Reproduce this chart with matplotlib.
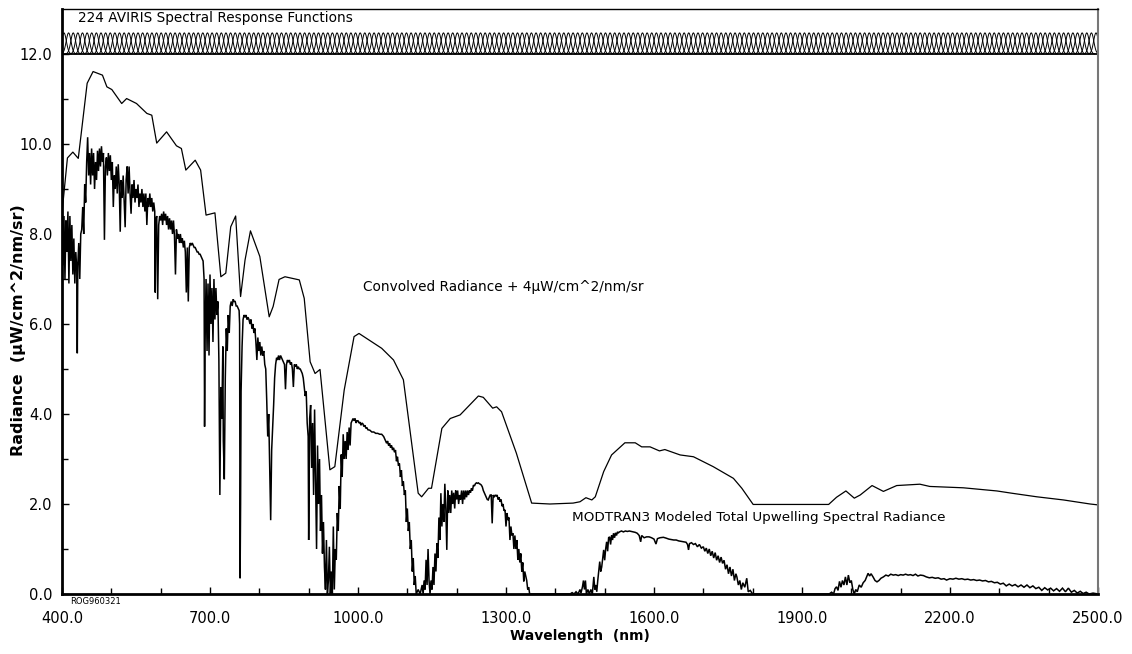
import numpy as np
import matplotlib
matplotlib.use("Agg")
import matplotlib.pyplot as plt

# ---------------- data ----------------
x_ticks = [400, 700, 1000, 1300, 1600, 1900, 2200, 2500]
y_ticks = [0, 2, 4, 6, 8, 10, 12]

# convolved radiance (+ offset): (wavelength nm, radiance)
convolved = [
    (400, 8.47), (411, 9.69), (422, 9.82), (433, 9.68), (451, 11.35), (463, 11.61),
    (482, 11.53), (491, 11.27), (501, 11.21), (521, 10.90), (531, 11.01), (551, 10.90),
    (572, 10.68), (582, 10.64), (592, 10.02), (612, 10.27), (632, 9.96), (642, 9.90),
    (651, 9.42), (670, 9.64), (681, 9.42), (692, 8.42), (710, 8.47), (722, 7.05),
    (732, 7.13), (742, 8.16), (752, 8.40), (762, 6.61), (771, 7.42), (782, 8.07),
    (801, 7.50), (820, 6.16), (828, 6.39), (840, 6.99), (852, 7.05), (881, 6.98),
    (891, 6.57), (903, 5.16), (913, 4.90), (923, 4.99), (943, 2.76), (953, 2.83),
    (972, 4.53), (992, 5.72), (1002, 5.79), (1048, 5.46), (1072, 5.20), (1092, 4.76),
    (1122, 2.24), (1129, 2.16), (1143, 2.35), (1149, 2.35), (1170, 3.68), (1187, 3.90),
    (1207, 3.98), (1244, 4.40), (1254, 4.37), (1273, 4.13), (1281, 4.16), (1291, 4.05),
    (1321, 3.13), (1352, 2.02), (1389, 2.00), (1436, 2.02), (1450, 2.05), (1462, 2.14),
    (1474, 2.09), (1481, 2.16), (1498, 2.72), (1514, 3.09), (1541, 3.36), (1562, 3.36),
    (1575, 3.27), (1592, 3.27), (1611, 3.18), (1622, 3.21), (1653, 3.09), (1680, 3.05),
    (1720, 2.83), (1761, 2.57), (1778, 2.35), (1801, 1.99), (1954, 1.99), (1970, 2.15),
    (1989, 2.29), (2006, 2.13), (2018, 2.20), (2042, 2.41), (2065, 2.28), (2092, 2.41),
    (2139, 2.44), (2159, 2.39), (2227, 2.36), (2295, 2.29), (2325, 2.24), (2376, 2.16),
    (2430, 2.09), (2484, 2.00), (2500, 1.98),
]

# MODTRAN3 high-resolution radiance, by region
modtran_vis = [
    (400, 8.2), (402, 7.3), (404, 8.4), (406, 7.0), (408, 8.3), (410, 7.6), (412, 8.5),
    (414, 6.9), (416, 8.4), (418, 7.4), (420, 8.2), (422, 7.1), (424, 7.9), (426, 6.9),
    (428, 7.6), (430, 7.2), (431, 5.35), (432, 7.3), (434, 7.8), (436, 7.0), (438, 8.0),
    (440, 8.1), (442, 8.6), (444, 8.0), (446, 9.1), (448, 8.7), (450, 9.6), (452, 10.15),
    (454, 9.3), (456, 9.8), (458, 9.1), (460, 9.9), (462, 9.3), (464, 9.8), (466, 9.0),
    (468, 9.6), (470, 9.2), (472, 9.85), (474, 9.4), (476, 9.9), (478, 9.5), (480, 9.95),
    (482, 9.6), (484, 9.8), (486, 7.87), (488, 9.5), (490, 9.7), (492, 9.3), (494, 9.8),
    (496, 9.4), (498, 9.75), (500, 9.2), (502, 9.6), (504, 8.6), (506, 9.3), (508, 9.0),
    (510, 9.5), (512, 8.9), (514, 9.55), (516, 9.1), (518, 8.05), (520, 9.2), (522, 8.8),
    (524, 9.3), (526, 8.7), (528, 8.15), (530, 9.2), (532, 9.5), (534, 8.9), (536, 9.5),
    (538, 8.9), (540, 8.45), (542, 9.1), (544, 8.8), (546, 9.2), (548, 8.7), (550, 9.0),
    (552, 8.8), (554, 9.1), (556, 8.6), (558, 8.9), (560, 8.7), (562, 9.0), (564, 8.6),
    (566, 8.9), (568, 8.5), (570, 8.9), (572, 8.2), (574, 8.8), (576, 8.6), (578, 8.9),
    (580, 8.6), (582, 8.8), (584, 8.5), (586, 8.7), (588, 8.5), (589, 6.7), (590, 8.3),
    (592, 8.4), (594, 6.55), (596, 8.2), (598, 8.4), (600, 8.3), (602, 8.45), (604, 8.2),
    (606, 8.5), (608, 8.3), (610, 8.45), (612, 8.2), (614, 8.4), (616, 8.1), (618, 8.35),
    (620, 8.1), (622, 8.3), (624, 8.0), (626, 8.3), (628, 7.95), (630, 7.1), (632, 8.1),
    (634, 7.9), (636, 8.0), (638, 7.8), (640, 8.0), (642, 7.8), (644, 7.9), (646, 7.7),
    (648, 7.85), (650, 7.6), (652, 6.7), (654, 7.7), (656, 6.5), (658, 7.7), (660, 7.8),
    (662, 7.75), (664, 7.8), (666, 7.75), (668, 7.7), (670, 7.7), (672, 7.65), (674, 7.6),
    (676, 7.6), (678, 7.55), (680, 7.55), (682, 7.5), (684, 7.45), (686, 7.4), (688, 7.0),
]
modtran_nir1 = [
    (689, 3.72), (690, 5.6), (692, 7.0), (694, 5.4), (696, 6.9), (698, 5.3), (700, 7.1),
    (702, 6.0), (704, 6.8), (706, 5.6), (708, 7.0), (710, 6.1), (712, 6.8), (714, 6.2),
    (716, 6.5), (718, 5.2), (720, 2.2), (722, 4.6), (724, 3.9), (726, 5.5), (727, 3.4),
    (729, 2.55), (731, 4.8), (733, 5.9), (735, 5.4), (737, 6.2), (739, 5.8), (741, 6.4),
    (743, 6.5), (745, 6.4), (747, 6.55), (749, 6.5), (751, 6.5), (753, 6.4), (755, 6.4),
    (757, 6.35), (759, 6.3), (760, 6.0), (761, 0.35), (762, 2.0), (763, 4.5), (765, 5.5),
    (767, 6.1), (769, 6.2), (771, 6.15), (773, 6.2), (775, 6.1), (777, 6.15), (779, 6.1),
    (781, 6.0), (783, 6.1), (785, 5.9), (787, 6.0), (789, 5.8), (791, 5.9), (793, 5.6),
    (795, 5.2), (797, 5.7), (799, 5.4), (801, 5.6), (803, 5.3), (805, 5.5), (807, 5.3),
    (809, 5.4), (811, 5.1), (813, 5.0), (815, 4.3), (817, 3.5), (819, 4.0), (821, 2.8),
    (823, 1.64), (825, 3.2), (827, 3.7), (829, 4.2), (831, 4.8), (833, 5.1), (835, 5.25),
    (837, 5.2), (839, 5.3), (841, 5.2), (843, 5.3), (845, 5.25), (847, 5.2), (849, 5.15),
    (851, 5.1), (853, 4.55), (855, 5.1), (857, 5.2), (859, 5.15), (861, 5.2), (863, 5.1),
    (865, 5.15), (867, 5.0), (869, 4.6), (871, 5.1), (873, 5.05), (875, 5.1), (877, 5.0),
    (879, 5.05), (881, 5.0), (883, 5.0), (885, 4.95), (887, 4.9), (889, 4.8), (891, 4.6),
    (893, 4.4), (895, 4.5), (897, 3.8), (899, 3.5), (900, 1.2), (902, 3.9), (904, 4.2),
    (906, 2.8), (908, 3.8), (910, 2.2), (912, 4.1), (914, 2.6), (916, 1.0), (918, 3.3),
    (920, 2.0), (922, 3.0), (924, 1.4), (926, 2.2), (928, 0.9), (930, 1.6), (932, 0.6),
    (934, 0.1), (936, 1.2), (938, 0.0), (940, 0.3), (942, 1.05), (944, 0.0), (946, 0.5),
    (948, 0.0), (950, 1.5), (952, 0.1), (954, 1.0), (956, 0.76), (958, 1.8), (960, 1.4),
    (962, 2.4), (964, 1.9), (966, 3.1), (968, 2.6), (970, 3.55), (972, 3.0), (974, 3.4),
    (976, 3.0), (978, 3.6), (980, 3.2), (982, 3.7), (984, 3.3), (986, 3.8), (988, 3.85),
    (990, 3.9), (992, 3.85), (994, 3.9), (996, 3.8), (998, 3.85), (1000, 3.85),
]
modtran_nir2 = [
    (1002, 3.8), (1004, 3.82), (1006, 3.75), (1008, 3.8), (1010, 3.78), (1012, 3.72),
    (1014, 3.75), (1016, 3.68), (1018, 3.7), (1020, 3.65), (1024, 3.64), (1028, 3.6),
    (1032, 3.6), (1036, 3.57), (1040, 3.57), (1044, 3.55), (1048, 3.55), (1052, 3.5),
    (1056, 3.4), (1058, 3.35), (1060, 3.4), (1062, 3.3), (1064, 3.35), (1066, 3.25),
    (1068, 3.3), (1070, 3.2), (1072, 3.25), (1074, 3.15), (1076, 3.2), (1078, 2.95),
    (1080, 3.05), (1082, 2.85), (1084, 2.9), (1086, 2.6), (1088, 2.75), (1090, 2.4),
    (1092, 2.5), (1094, 2.2), (1096, 2.3), (1098, 1.6), (1100, 1.9), (1102, 1.4),
    (1104, 1.6), (1106, 1.0), (1108, 1.2), (1110, 0.5), (1112, 0.8), (1114, 0.2),
    (1116, 0.4), (1118, 0.0), (1122, 0.1), (1126, 0.0), (1130, 0.2), (1132, 0.0),
    (1134, 0.3), (1136, 0.1), (1138, 0.76), (1140, 0.2), (1142, 1.0), (1144, 0.3),
    (1146, 0.0), (1148, 0.3), (1150, 0.1), (1152, 0.6), (1154, 0.2), (1156, 0.9),
    (1158, 0.5), (1160, 1.13), (1162, 0.8), (1164, 1.7), (1166, 1.2), (1168, 2.24),
    (1170, 1.5), (1172, 2.0), (1174, 1.6), (1176, 2.45), (1178, 1.9), (1180, 0.98),
    (1182, 2.3), (1184, 1.8), (1186, 2.2), (1188, 1.8), (1190, 2.3), (1192, 2.0),
    (1194, 2.25), (1196, 1.9), (1198, 2.3), (1200, 2.1), (1202, 2.3), (1204, 2.0),
    (1206, 2.2), (1208, 2.1), (1210, 2.3), (1212, 2.0), (1214, 2.3), (1216, 2.1),
    (1218, 2.3), (1220, 2.15), (1222, 2.3), (1224, 2.2), (1226, 2.3), (1228, 2.25),
    (1230, 2.35), (1232, 2.3), (1234, 2.42), (1236, 2.4), (1238, 2.45), (1240, 2.47),
    (1242, 2.46), (1244, 2.47), (1246, 2.45), (1248, 2.44), (1250, 2.42), (1252, 2.38),
    (1254, 2.3), (1256, 2.25), (1258, 2.2), (1260, 2.15), (1262, 2.1), (1264, 2.09),
    (1266, 2.15), (1268, 2.2), (1270, 2.2), (1272, 1.57), (1274, 2.2), (1276, 2.15),
    (1278, 2.2), (1280, 2.18), (1282, 2.2), (1284, 2.1), (1286, 2.15), (1288, 2.05),
    (1290, 2.1), (1292, 1.95), (1294, 2.0), (1296, 1.85), (1298, 1.87), (1300, 1.5),
    (1302, 1.8), (1304, 1.64), (1306, 1.7), (1308, 1.2), (1310, 1.5), (1312, 1.3),
    (1314, 1.35), (1316, 1.0), (1318, 1.3), (1320, 1.0), (1322, 1.2), (1324, 0.76),
    (1326, 1.0), (1328, 0.7), (1330, 0.9), (1332, 0.5), (1334, 0.7), (1336, 0.28),
    (1338, 0.5), (1340, 0.4), (1342, 0.3), (1344, 0.1), (1346, 0.15), (1348, 0.0),
]
modtran_swir1 = [
    (1430, 0.0), (1434, 0.03), (1438, 0.0), (1442, 0.05), (1446, 0.0), (1450, 0.1),
    (1452, 0.02), (1455, 0.16), (1457, 0.3), (1459, 0.1), (1461, 0.3), (1463, 0.0),
    (1466, 0.1), (1469, 0.0), (1472, 0.1), (1475, 0.0), (1478, 0.38), (1480, 0.1),
    (1482, 0.2), (1484, 0.05), (1486, 0.3), (1488, 0.5), (1490, 0.72), (1492, 0.5),
    (1494, 0.6), (1496, 0.8), (1498, 0.98), (1500, 0.75), (1502, 1.0), (1504, 1.16),
    (1506, 0.95), (1508, 1.25), (1510, 1.27), (1512, 1.1), (1514, 1.3), (1516, 1.2),
    (1518, 1.35), (1520, 1.25), (1522, 1.36), (1524, 1.3), (1526, 1.38), (1528, 1.36),
    (1530, 1.38), (1534, 1.4), (1538, 1.38), (1542, 1.4), (1546, 1.39), (1550, 1.4),
    (1554, 1.39), (1558, 1.38), (1562, 1.37), (1566, 1.35), (1570, 1.3), (1573, 1.16),
    (1575, 1.3), (1580, 1.25), (1585, 1.27), (1590, 1.27), (1595, 1.25), (1600, 1.22),
    (1604, 1.11), (1607, 1.23), (1612, 1.25), (1619, 1.26), (1625, 1.24), (1630, 1.22),
    (1635, 1.21), (1640, 1.2), (1645, 1.2), (1650, 1.18), (1655, 1.17), (1660, 1.16),
    (1665, 1.15), (1668, 1.1), (1670, 0.98), (1672, 1.12), (1676, 1.14), (1680, 1.1),
    (1684, 1.12), (1688, 1.05), (1692, 1.1), (1696, 1.02), (1700, 1.05), (1703, 0.95),
    (1706, 1.02), (1709, 0.9), (1712, 1.0), (1715, 0.85), (1718, 0.95), (1721, 0.8),
    (1724, 0.92), (1727, 0.75), (1730, 0.85), (1733, 0.7), (1736, 0.82), (1739, 0.68),
    (1742, 0.75), (1745, 0.55), (1748, 0.65), (1751, 0.45), (1754, 0.6), (1757, 0.4),
    (1760, 0.55), (1763, 0.3), (1766, 0.45), (1768, 0.38), (1771, 0.2), (1774, 0.3),
    (1777, 0.1), (1780, 0.25), (1784, 0.15), (1788, 0.35), (1791, 0.05), (1795, 0.08),
    (1800, 0.0),
]
modtran_swir2 = [
    (1955, 0.0), (1960, 0.04), (1964, 0.0), (1967, 0.12), (1970, 0.16), (1973, 0.08),
    (1976, 0.28), (1979, 0.15), (1982, 0.3), (1985, 0.2), (1988, 0.38), (1991, 0.2),
    (1994, 0.42), (1997, 0.25), (2000, 0.3), (2003, 0.1), (2006, 0.0), (2009, 0.1),
    (2012, 0.05), (2016, 0.2), (2020, 0.15), (2024, 0.25), (2028, 0.3), (2031, 0.38),
    (2034, 0.46), (2037, 0.4), (2040, 0.45), (2044, 0.38), (2048, 0.3), (2052, 0.27),
    (2056, 0.3), (2060, 0.35), (2065, 0.38), (2070, 0.42), (2075, 0.4), (2080, 0.44),
    (2085, 0.42), (2090, 0.43), (2095, 0.41), (2100, 0.43), (2105, 0.42), (2110, 0.44),
    (2115, 0.42), (2120, 0.43), (2125, 0.41), (2130, 0.44), (2135, 0.4), (2140, 0.42),
    (2146, 0.41), (2152, 0.38), (2158, 0.36), (2164, 0.37), (2170, 0.35), (2176, 0.36),
    (2182, 0.33), (2188, 0.34), (2193, 0.31), (2200, 0.34), (2206, 0.33), (2212, 0.35),
    (2218, 0.33), (2224, 0.34), (2230, 0.32), (2236, 0.33), (2242, 0.31), (2248, 0.32),
    (2254, 0.3), (2260, 0.31), (2266, 0.29), (2272, 0.3), (2278, 0.27), (2284, 0.28),
    (2290, 0.25), (2296, 0.26), (2302, 0.22), (2308, 0.24), (2314, 0.18), (2320, 0.22),
    (2326, 0.18), (2332, 0.21), (2338, 0.16), (2344, 0.2), (2350, 0.15), (2356, 0.2),
    (2362, 0.14), (2368, 0.18), (2374, 0.12), (2380, 0.15), (2386, 0.08), (2392, 0.14),
    (2398, 0.09), (2404, 0.13), (2410, 0.07), (2416, 0.12), (2422, 0.06), (2428, 0.13),
    (2434, 0.05), (2440, 0.13), (2446, 0.04), (2452, 0.08), (2458, 0.02), (2464, 0.06),
    (2470, 0.01), (2476, 0.04), (2482, 0.0), (2490, 0.02), (2500, 0.0),
]

# AVIRIS spectral response functions
srf_count = 224
srf_first, srf_last = 404.0, 2496.0
srf_fwhm = 11.5
srf_base, srf_height = 12.0, 0.47

# ---------------- figure ----------------
W, H = 1132, 654
fig = plt.figure(figsize=(W / 100, H / 100), dpi=100)
ax = fig.add_axes([62 / W, 1 - 594 / H, (1098 - 62) / W, (594 - 9) / H])

modtran_all = modtran_vis + modtran_nir1 + modtran_nir2 + modtran_swir1 + modtran_swir2
m_wl = np.array([p[0] for p in modtran_all], dtype=float)
m_rad = np.array([p[1] for p in modtran_all], dtype=float)
ax.plot(m_wl, m_rad, color="black", lw=1.1, solid_joinstyle="miter")

c_wl = np.array([p[0] for p in convolved], dtype=float)
c_rad = np.array([p[1] for p in convolved], dtype=float)
ax.plot(c_wl, c_rad, color="black", lw=0.9)

# spectral response functions
centers = np.linspace(srf_first, srf_last, srf_count)
sigma = srf_fwhm / 2.3548
for c in centers:
    xx = np.linspace(c - 3.2 * sigma, c + 3.2 * sigma, 40)
    yy = srf_base + srf_height * np.exp(-0.5 * ((xx - c) / sigma) ** 2)
    ax.plot(xx, yy, color="black", lw=0.7)
ax.axhline(srf_base, color="black", lw=1.3)

ax.set_xlim(400, 2500)
ax.set_ylim(0, 13.0)
ax.set_xticks(x_ticks)
ax.set_xticklabels([f"{v:.1f}" for v in x_ticks])
ax.set_xticks(np.arange(400, 2501, 100), minor=True)
ax.set_yticks(y_ticks)
ax.set_yticklabels([f"{v:.1f}" for v in y_ticks])
ax.set_yticks(np.arange(1, 13, 2), minor=True)

ax.tick_params(axis="both", which="both", direction="in", colors="black",
               labelsize=10.5)
ax.tick_params(axis="x", which="major", length=5, width=1, pad=12)
ax.tick_params(axis="x", which="minor", length=4, width=1)
ax.tick_params(axis="y", which="major", length=5, width=1, pad=7)
ax.tick_params(axis="y", which="minor", length=4, width=1)

for s in ("left", "bottom"):
    ax.spines[s].set_linewidth(2.0)
    ax.spines[s].set_color("black")
ax.spines["top"].set_linewidth(1.0)
ax.spines["top"].set_color("black")
ax.spines["right"].set_linewidth(1.5)
ax.spines["right"].set_color("#777777")

ax.set_xlabel("Wavelength  (nm)", fontsize=10, fontweight="bold")
ax.xaxis.set_label_coords((580 - 62) / 1036, -(636 - 594) / 585)
ax.set_ylabel("Radiance  (\u03bcW/cm^2/nm/sr)", fontsize=11.5, fontweight="bold")
ax.yaxis.set_label_coords(-(62 - 19) / 1036, (594 - 330) / 585)
ax.xaxis.label.set_va("center")
ax.yaxis.label.set_va("center")

ax.text(432, 12.79, "224 AVIRIS Spectral Response Functions", fontsize=9.8,
        ha="left", va="center")
ax.text(1010, 6.82, "Convolved Radiance + 4\u03bcW/cm^2/nm/sr", fontsize=9.8,
        ha="left", va="center")
ax.text(1434, 1.71, "MODTRAN3 Modeled Total Upwelling Spectral Radiance", fontsize=9.7,
        ha="left", va="center")
fig.text(70 / W, 1 - 602 / H, "ROG960321", fontsize=6, ha="left", va="center")

fig.savefig("out.png", dpi=100)
